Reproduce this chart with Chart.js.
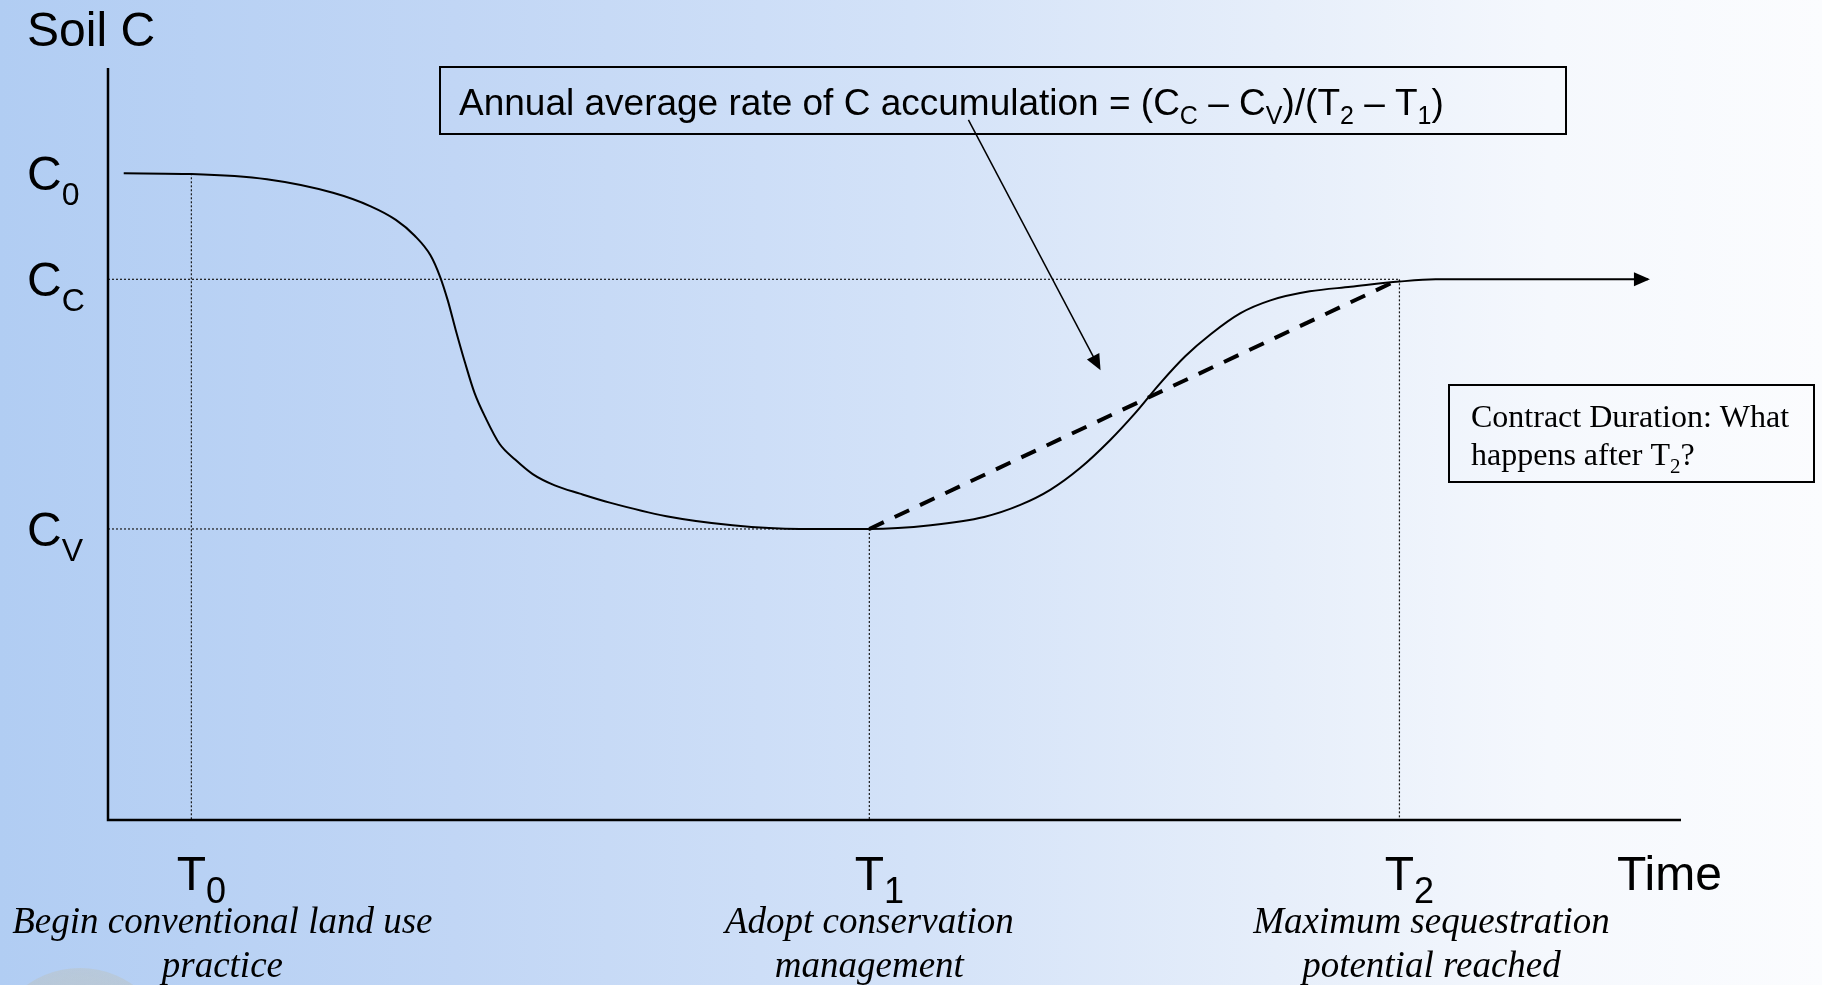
<!DOCTYPE html>
<html>
<head>
<meta charset="utf-8">
<title>Soil C</title>
<script src="https://cdn.jsdelivr.net/npm/chart.js@4.4.1/dist/chart.umd.min.js"></script>
<style>
    html, body { margin: 0; padding: 0; }
    body {
        width: 1822px; height: 985px; overflow: hidden;
        background: linear-gradient(to right, #b1cdf3 0%, #c1d6f5 25%, #d3e2f8 50%, #e6eefa 70%, #f5f8fd 85%, #fbfcfe 100%);
    }
    #soilChart { position: absolute; left: 0; top: 0; }
</style>
</head>
<body>
<canvas id="soilChart" width="1822" height="985"></canvas>
<script>
// 时间点 T0, T1, T2
const timeMarks = [5.3, 48.4, 82.1];
const timeSubs = ['0', '1', '2'];
const timeNotes = [
    ['Begin conventional land use', 'practice'],
    ['Adopt conservation', 'management'],
    ['Maximum sequestration', 'potential reached']
];

// 碳水平 C0, Cc, Cv
const carbonLevels = [86.0, 71.9, 38.7];
const carbonSubs = ['0', 'C', 'V'];

// 土壤碳曲线
const soilTime = [1.0, 5.3, 10.1, 14.3, 16.7, 18.3, 19.5, 20.5, 21.1, 21.6, 22.1, 22.7, 23.3, 24.0,
    24.9, 25.9, 27.0, 28.4, 30.0, 31.9, 35.5, 39.7, 44.0, 48.4,
    52.3, 55.7, 58.0, 59.9, 61.8, 63.7, 65.3, 66.9, 68.5, 70.1, 72.0, 73.9, 76.4, 79.0, 82.1, 84.4, 97.9];
const soilCarbon = [86.0, 85.9, 85.2, 83.4, 81.6, 79.8, 77.7, 75.1, 72.3, 69.1, 65.2, 60.8, 56.8, 53.5,
    50.0, 47.9, 46.0, 44.5, 43.4, 42.2, 40.4, 39.2, 38.7, 38.7,
    39.2, 40.3, 41.9, 43.9, 46.8, 50.5, 54.1, 58.1, 61.7, 64.6, 67.4, 69.1, 70.3, 70.9, 71.6, 71.9, 71.9];

// annotation arrow, in chart units
const noteArrowFrom = {x: 54.7, y: 93.1};
const noteArrowTo = {x: 63.1, y: 59.8};

const SANS = '"Liberation Sans", Arial, sans-serif';
const SERIF = '"Liberation Serif", "Times New Roman", serif';

const drawRich = (ctx, parts, x, y, size, subSize, subDrop, family, style = '') => {
    let cx = x;
    parts.forEach(p => {
        ctx.font = `${style} ${p.sub ? subSize : size}px ${family}`;
        ctx.fillText(p.t, cx, y + (p.sub ? subDrop : 0));
        cx += ctx.measureText(p.t).width;
    });
    return cx;
};

const arrowHead = (ctx, fromX, fromY, toX, toY, len, half) => {
    const a = Math.atan2(toY - fromY, toX - fromX);
    ctx.beginPath();
    ctx.moveTo(toX, toY);
    ctx.lineTo(toX - len * Math.cos(a) + half * Math.sin(a), toY - len * Math.sin(a) - half * Math.cos(a));
    ctx.lineTo(toX - len * Math.cos(a) - half * Math.sin(a), toY - len * Math.sin(a) + half * Math.cos(a));
    ctx.closePath();
    ctx.fill();
};

const guide = (points) => ({
    data: points,
    borderColor: '#1a1a1a',
    borderWidth: 1.2,
    borderDash: [2, 2],
    pointRadius: 0,
    tension: 0,
    order: 3
});

const decor = {
    id: 'decor',
    beforeDraw(chart) {
        const {ctx} = chart;
        // faint logo peeking at bottom left
        ctx.save();
        const g = ctx.createRadialGradient(80, 1060, 20, 80, 1060, 92);
        g.addColorStop(0, 'rgba(205,200,180,0.55)');
        g.addColorStop(1, 'rgba(190,190,175,0.35)');
        ctx.fillStyle = g;
        ctx.beginPath();
        ctx.arc(80, 1060, 92, 0, Math.PI * 2);
        ctx.fill();
        ctx.restore();
    },
    afterDraw(chart) {
        const {ctx, chartArea: area, scales: {x, y}} = chart;
        ctx.save();
        ctx.fillStyle = '#000';
        ctx.strokeStyle = '#000';

        // axes
        ctx.lineWidth = 2.5;
        ctx.beginPath();
        ctx.moveTo(area.left, area.top);
        ctx.lineTo(area.left, area.bottom);
        ctx.lineTo(area.right, area.bottom);
        ctx.stroke();

        // arrow at end of curve
        const n = soilTime.length - 1;
        const ex = x.getPixelForValue(soilTime[n]);
        const ey = y.getPixelForValue(soilCarbon[n]);
        arrowHead(ctx, ex - 10, ey, ex + 2, ey, 16, 7);

        // y labels
        ctx.textBaseline = 'alphabetic';
        ctx.font = `48px ${SANS}`;
        ctx.fillText('Soil C', 27, 46);
        carbonLevels.forEach((c, i) => {
            const py = y.getPixelForValue(c);
            drawRich(ctx, [{t: 'C'}, {t: carbonSubs[i], sub: true}], 27, py + 17, 48, 32, 15, SANS);
        });

        // x labels
        timeMarks.forEach((t, i) => {
            const px = x.getPixelForValue(t);
            ctx.font = `48px ${SANS}`;
            const w = ctx.measureText('T').width;
            drawRich(ctx, [{t: 'T'}, {t: timeSubs[i], sub: true}], px - w / 2, 890, 48, 36, 13, SANS);
        });
        ctx.font = `48px ${SANS}`;
        ctx.fillText('Time', 1617, 890);

        ctx.textAlign = 'center';
        ctx.font = `italic 37px ${SERIF}`;
        const noteShift = [31, 0, 32];
        timeNotes.forEach((lines, i) => {
            const px = x.getPixelForValue(timeMarks[i]) + noteShift[i];
            lines.forEach((line, j) => ctx.fillText(line, px, 933 + j * 44));
        });
        ctx.textAlign = 'left';

        // rate box
        ctx.lineWidth = 2;
        ctx.strokeRect(440, 67, 1126, 67);
        drawRich(ctx, [
            {t: 'Annual average rate of C accumulation = (C'}, {t: 'C', sub: true},
            {t: ' \u2013 C'}, {t: 'V', sub: true}, {t: ')/(T'}, {t: '2', sub: true},
            {t: ' \u2013 T'}, {t: '1', sub: true}, {t: ')'}
        ], 459, 115, 37, 25, 9, SANS);

        // arrow from box to average line
        const ax0 = x.getPixelForValue(noteArrowFrom.x), ay0 = y.getPixelForValue(noteArrowFrom.y);
        const ax1 = x.getPixelForValue(noteArrowTo.x), ay1 = y.getPixelForValue(noteArrowTo.y);
        ctx.lineWidth = 1.5;
        ctx.beginPath();
        ctx.moveTo(ax0, ay0);
        ctx.lineTo(ax1 - (ax1 - ax0) * 0.04, ay1 - (ay1 - ay0) * 0.04);
        ctx.stroke();
        arrowHead(ctx, ax0, ay0, ax1, ay1, 16, 7);

        // contract box
        ctx.lineWidth = 2;
        ctx.strokeRect(1449, 385, 365, 97);
        ctx.font = `32px ${SERIF}`;
        ctx.fillText('Contract Duration: What', 1471, 427);
        drawRich(ctx, [{t: 'happens after T'}, {t: '2', sub: true}, {t: '?'}], 1471, 465, 32, 21, 8, SERIF);

        ctx.restore();
    }
};

new Chart(document.getElementById('soilChart').getContext('2d'), {
    type: 'line',
    data: {
        datasets: [
            {
                label: 'Soil C',
                data: soilTime.map((t, i) => ({x: t, y: soilCarbon[i]})),
                borderColor: '#000',
                borderWidth: 2,
                pointRadius: 0,
                cubicInterpolationMode: 'monotone',
                order: 1
            },
            {
                label: 'Average rate',
                data: [{x: timeMarks[1], y: carbonLevels[2]}, {x: timeMarks[2], y: carbonLevels[1]}],
                borderColor: '#000',
                borderWidth: 4,
                borderDash: [16, 12],
                pointRadius: 0,
                order: 2
            },
            guide([{x: 0, y: carbonLevels[1]}, {x: timeMarks[2], y: carbonLevels[1]}]),
            guide([{x: 0, y: carbonLevels[2]}, {x: timeMarks[1], y: carbonLevels[2]}]),
            guide([{x: timeMarks[0], y: carbonLevels[0]}, {x: timeMarks[0], y: 0}]),
            guide([{x: timeMarks[1], y: carbonLevels[2]}, {x: timeMarks[1], y: 0}]),
            guide([{x: timeMarks[2], y: carbonLevels[1]}, {x: timeMarks[2], y: 0}])
        ]
    },
    options: {
        responsive: false,
        animation: false,
        layout: {padding: {left: 108, right: 141, top: 68, bottom: 165}},
        scales: {
            x: {type: 'linear', min: 0, max: 100, display: false},
            y: {type: 'linear', min: 0, max: 100, display: false}
        },
        plugins: {legend: {display: false}, tooltip: {enabled: false}}
    },
    plugins: [decor]
});
</script>
</body>
</html>
